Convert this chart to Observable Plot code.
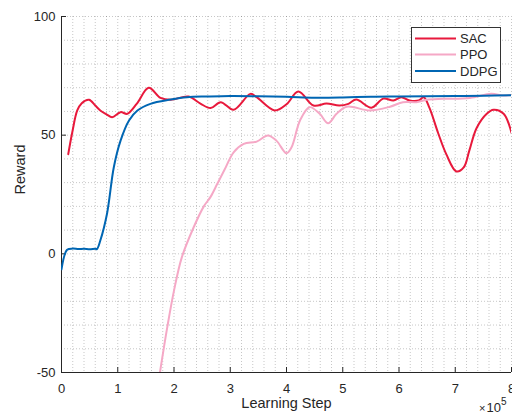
<!DOCTYPE html>
<html><head><meta charset="utf-8">
<script src="https://cdn.jsdelivr.net/npm/d3@7"></script>
<script src="https://cdn.jsdelivr.net/npm/@observablehq/plot@0.6"></script>
<style>
body{margin:0;background:#fff;}
#wrap{position:relative;width:512px;height:414px;overflow:hidden;}
</style></head><body><div id="wrap"></div>
<script>
// ---- data ----
const seriesNames = ["SAC", "PPO", "DDPG"];
const seriesColors = ["#e8193c", "#f5a8c6", "#0066b3"];

const sacStep = [0.12,0.19,0.28,0.36,0.49,0.6,0.69,0.8,0.9,1.05,1.17,1.34,1.55,1.76,1.94,2.26,2.47,2.65,2.83,3.06,3.36,3.47,3.79,4.0,4.21,4.48,4.71,4.94,5.1,5.24,5.51,5.72,5.9,6.04,6.19,6.35,6.44,6.54,6.7,6.84,7.02,7.15,7.25,7.38,7.56,7.68,7.86,8.0];
const sacReward = [42,51,60.4,63.5,64.9,62.5,60.4,58.8,57.6,59.7,59,63.3,70,65.7,64.9,66.3,63.3,61.4,63.9,60.7,67.4,66,60.4,63,68.4,62.5,63.3,62.5,63.2,65,61.6,65.4,64.6,66,64.6,64.6,66,61.6,50.6,42,34.7,36.4,43.5,53,59,60.7,59,51];

const ppoStep = [1.75,1.88,2.0,2.14,2.35,2.53,2.65,2.77,2.9,3.06,3.24,3.47,3.67,3.82,4.0,4.09,4.24,4.41,4.59,4.74,4.89,5.07,5.48,5.84,6.07,6.31,6.49,6.79,7.26,7.64,7.85,8.0];
const ppoReward = [-50,-31,-15.5,-1.4,11.2,20,24,29.5,35.5,42.8,46.3,47.3,49.9,47.7,42.4,44.9,56.2,61.8,59,55,59,62,60.4,62,63.9,63.9,64.9,65.3,65.7,67.4,66.7,67];

const ddpgStep = [0,0.1,0.2,0.3,0.4,0.5,0.6,0.63,0.69,0.81,0.93,1.05,1.2,1.35,1.58,1.94,2.23,2.6,3.0,3.5,4.0,4.5,5.0,5.5,6.0,6.5,7.0,7.5,8.0];
const ddpgReward = [-6.5,1.7,2.2,2.0,2.1,1.9,2.1,2.0,5.6,17,36.5,47.7,56.2,60.4,63.2,65,66,66.3,66.5,66.4,66.2,65.8,65.9,66.2,66.3,66.4,66.5,66.6,66.8];

const xTicks = [0,1,2,3,4,5,6,7,8];
const yTicks = [-50,0,50,100];
const xLabel = "Learning Step";
const yLabel = "Reward";
const xExponent = "5";

// ---- build table ----
const steps = [sacStep, ppoStep, ddpgStep];
const rewards = [sacReward, ppoReward, ddpgReward];
const rows = [];
seriesNames.forEach((name, i) => steps[i].forEach((x, j) => rows.push({series: name, x, y: rewards[i][j]})));

const xMinor = d3.range(0, 8.001, 0.2);
const yMinor = d3.range(-50, 100.001, 10);

const W = 512, H = 414, mt = 16, mb = 42, ml = 61, mr = 1;
const plotW = W - ml - mr, plotH = H - mt - mb;
const ink = "#262626";
const font = '"Liberation Sans", Arial, Helvetica, sans-serif';

const chart = Plot.plot({
  width: W, height: H,
  marginTop: mt, marginBottom: mb, marginLeft: ml, marginRight: mr,
  style: {fontFamily: font, fontSize: "13px", color: ink, background: "#fff", overflow: "visible"},
  x: {domain: [0, 8]},
  y: {domain: [-50, 100]},
  color: {domain: seriesNames, range: seriesColors},
  marks: [
    Plot.gridX(xMinor, {stroke: "#000", strokeOpacity: 0.22, strokeDasharray: "1,2"}),
    Plot.gridY(yMinor, {stroke: "#000", strokeOpacity: 0.22, strokeDasharray: "1,2"}),
    Plot.axisX({ticks: xTicks, tickSize: 0, tickPadding: 11, label: null, tickFormat: d => String(d)}),
    Plot.axisY({ticks: yTicks, tickSize: 0, tickPadding: 6, label: null, tickFormat: d => String(d)}),
    Plot.tickX(xTicks, {x: d => d, stroke: ink, insetTop: plotH - 5}),
    Plot.tickY(yTicks, {y: d => d, stroke: ink, insetRight: plotW - 5}),
    Plot.ruleX([0], {stroke: ink}),
    Plot.ruleY([-50], {stroke: ink}),
    Plot.line(rows, {x: "x", y: "y", z: "series", stroke: "series", strokeWidth: 2, curve: "catmull-rom", clip: true}),
    Plot.text([xLabel], {frameAnchor: "bottom", dy: 35, fontSize: 14.5, fill: ink}),
    Plot.text([yLabel], {frameAnchor: "left", dx: -41, rotate: -90, fontSize: 14.5, fill: ink})
  ]
});

document.getElementById("wrap").appendChild(chart);

// exponent label and legend
const svg = d3.select(chart);
const ex = svg.append("text").attr("x", 479).attr("y", 412).attr("fill", ink)
  .attr("text-anchor", "start").style("font-family", font);
ex.append("tspan").style("font-size", "11px").text("×");
ex.append("tspan").style("font-size", "13px").attr("dx", 1).text("10");
ex.append("tspan").style("font-size", "10px").attr("dy", -7).text(xExponent);

const lg = svg.append("g").attr("text-anchor", "start");
lg.append("rect").attr("x", 411.5).attr("y", 27.5).attr("width", 89).attr("height", 55)
  .attr("fill", "#fff").attr("stroke", "#333").attr("stroke-width", 1);
const rowY = [38.5, 54.5, 71];
seriesNames.forEach((name, i) => {
  lg.append("line").attr("x1", 415).attr("x2", 456).attr("y1", rowY[i]).attr("y2", rowY[i])
    .attr("stroke", seriesColors[i]).attr("stroke-width", 2);
  lg.append("text").attr("x", 460).attr("y", rowY[i]).attr("dy", "0.36em")
    .attr("text-anchor", "start")
    .attr("fill", ink).style("font-family", font).style("font-size", "13px").text(name);
});
</script>
</body></html>
